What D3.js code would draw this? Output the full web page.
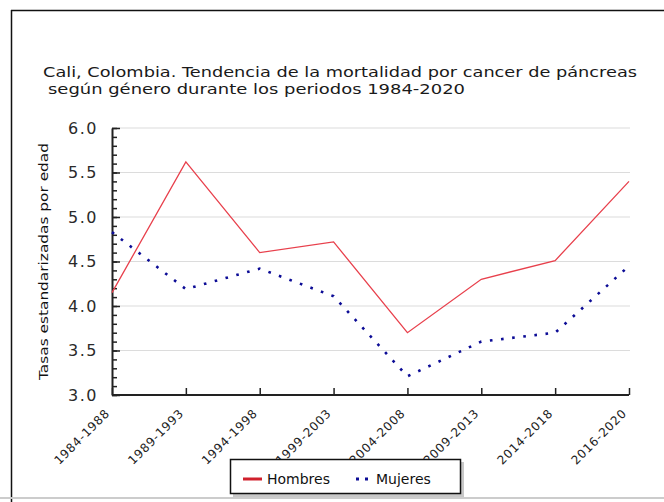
<!DOCTYPE html>
<html>
<head>
<meta charset="utf-8">
<script src="https://cdn.jsdelivr.net/npm/d3@7"></script>
<style>
  body { margin: 0; background: #fff; }
  text { font-family: "DejaVu Sans", Verdana, sans-serif; }
</style>
</head>
<body>
<div id="chart"></div>
<script>
const periodos = ["1984-1988", "1989-1993", "1994-1998", "1999-2003", "2004-2008", "2009-2013", "2014-2018", "2016-2020"];
const hombres = [4.15, 5.62, 4.6, 4.72, 3.7, 4.3, 4.51, 5.4];
const mujeres = [4.83, 4.19, 4.42, 4.11, 3.21, 3.6, 3.7, 4.45];
const yTicks = [3.0, 3.5, 4.0, 4.5, 5.0, 5.5, 6.0];
const series = [
    { name: "Hombres", values: hombres },
    { name: "Mujeres", values: mujeres }
];

const width = 664, height = 502;
const margin = ({ top: 128, right: 35, bottom: 107, left: 112 });

const svg = d3.select("#chart").append("svg")
    .attr("width", width)
    .attr("height", height);

// marco exterior
svg.append("line").attr("x1", 11).attr("x2", width).attr("y1", 10.5).attr("y2", 10.5)
    .attr("stroke", "#111").attr("stroke-width", 1.5);
svg.append("line").attr("x1", 11.5).attr("x2", 11.5).attr("y1", 10).attr("y2", height)
    .attr("stroke", "#111").attr("stroke-width", 1.5);
svg.append("line").attr("x1", 0).attr("x2", width).attr("y1", 498).attr("y2", 498)
    .attr("stroke", "#ccc").attr("stroke-width", 2);

const x = d3.scalePoint().domain(periodos).range([margin.left, width - margin.right]);
const y = d3.scaleLinear().domain([3, 6]).range([height - margin.bottom, margin.top]);

// titulo
const title = svg.append("text").attr("font-size", 13.5).attr("fill", "#1a1a1a");
title.append("tspan").attr("x", 43).attr("y", 77)
    .attr("textLength", 594).attr("lengthAdjust", "spacingAndGlyphs")
    .text("Cali, Colombia. Tendencia de la mortalidad por cancer de páncreas");
title.append("tspan").attr("x", 48).attr("y", 94)
    .attr("textLength", 417).attr("lengthAdjust", "spacingAndGlyphs")
    .text("según género durante los periodos 1984-2020");

// grid
svg.append("g")
    .selectAll("line")
    .data(yTicks.slice(1))
    .join("line")
    .attr("x1", margin.left)
    .attr("x2", width - margin.right + 1)
    .attr("y1", d => y(d))
    .attr("y2", d => y(d))
    .attr("stroke", "#dcdcdc")
    .attr("stroke-width", 1.2);

// eje y
const yAxis = svg.append("g")
    .attr("transform", `translate(${margin.left},0)`);
yAxis.append("g")
    .call(d3.axisRight(y).ticks(30).tickSize(5).tickFormat("").tickSizeOuter(0))
    .call(g => g.select(".domain").remove())
    .selectAll("line").attr("stroke", "#222").attr("stroke-width", 1.5);
yAxis.append("g")
    .call(d3.axisRight(y).tickValues(yTicks).tickSize(8).tickFormat("").tickSizeOuter(0))
    .call(g => g.select(".domain").attr("stroke", "#222").attr("stroke-width", 2))
    .selectAll("line").attr("stroke", "#222").attr("stroke-width", 1.5);
yAxis.append("g")
    .selectAll("text")
    .data(yTicks)
    .join("text")
    .attr("x", -14)
    .attr("y", d => y(d))
    .attr("dy", "0.36em")
    .attr("text-anchor", "end")
    .attr("font-size", 16)
    .attr("letter-spacing", 1.5)
    .attr("fill", "#2a2a2a")
    .text(d3.format(".1f"));

svg.append("text")
    .attr("transform", `translate(48,${(143 + 380) / 2}) rotate(-90)`)
    .attr("text-anchor", "middle")
    .attr("font-size", 12.5)
    .attr("textLength", 237)
    .attr("lengthAdjust", "spacingAndGlyphs")
    .attr("fill", "#111")
    .text("Tasas estandarizadas por edad");

// eje x
const xAxis = svg.append("g")
    .attr("transform", `translate(0,${height - margin.bottom})`)
    .call(d3.axisTop(x).tickSize(7).tickFormat("").tickSizeOuter(0));
xAxis.select(".domain").attr("stroke", "#222").attr("stroke-width", 2).attr("d", `M${margin.left},0H${width - margin.right}`);
xAxis.selectAll("line").attr("stroke", "#222").attr("stroke-width", 1.5);
xAxis.selectAll(".tick")
    .append("text")
    .attr("transform", "translate(-2,19) rotate(-45)")
    .attr("text-anchor", "end")
    .attr("font-size", 12)
    .attr("letter-spacing", 0.8)
    .attr("fill", "#222")
    .text(d => d);

// lineas
const line = d3.line()
    .x((d, i) => x(periodos[i]))
    .y(d => y(d));

svg.append("path")
    .datum(hombres)
    .attr("fill", "none")
    .attr("stroke", "#e8404c")
    .attr("stroke-width", 1.3)
    .attr("d", line);

svg.append("path")
    .datum(mujeres)
    .attr("fill", "none")
    .attr("stroke", "#0c0c96")
    .attr("stroke-width", 2.6)
    .attr("stroke-dasharray", "2.6,8.6")
    .attr("d", line);

// leyenda
const legend = svg.append("g").attr("transform", "translate(230,459)");
legend.append("rect").attr("x", 3).attr("y", 3).attr("width", 231).attr("height", 35).attr("fill", "#c8c8c8");
legend.append("rect").attr("x", 0.5).attr("y", 0.5).attr("width", 230).attr("height", 34)
    .attr("fill", "#fff").attr("stroke", "#111").attr("stroke-width", 1.5);
legend.append("line").attr("x1", 13).attr("x2", 32).attr("y1", 20).attr("y2", 20)
    .attr("stroke", "#d0202c").attr("stroke-width", 3);
legend.append("line").attr("x1", 126).attr("x2", 142).attr("y1", 20).attr("y2", 20)
    .attr("stroke", "#0c0c96").attr("stroke-width", 3).attr("stroke-dasharray", "3,6");
legend.selectAll("text.lab")
    .data(series)
    .join("text")
    .attr("class", "lab")
    .attr("x", (d, i) => i === 0 ? 37 : 146)
    .attr("y", 25)
    .attr("font-size", 14)
    .attr("fill", "#111")
    .text(d => d.name);
</script>
</body>
</html>
